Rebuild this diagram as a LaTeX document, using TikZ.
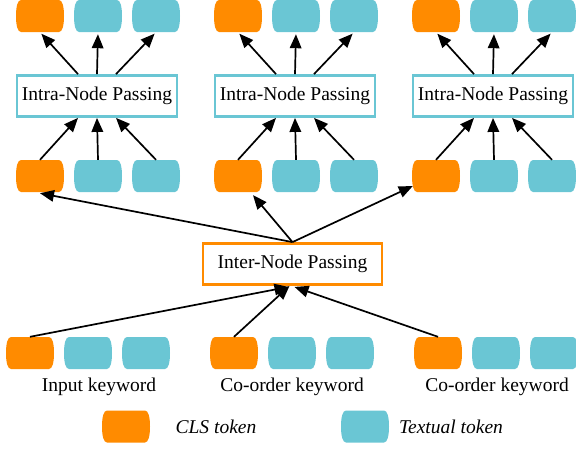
\documentclass[tikz,border=0pt]{standalone}
\usepackage{fontspec}
\setmainfont{Liberation Serif}
\usetikzlibrary{arrows.meta,calc}
\definecolor{clsorange}{RGB}{255,139,0}
\definecolor{txtteal}{RGB}{106,198,212}
\tikzset{
  % token: flat top and bottom, softly bulging ends
  tok/.style={rectangle, minimum width=48pt, minimum height=32pt, inner sep=0pt,
    path picture={
      \coordinate (pc) at (path picture bounding box.center);
      \fill[#1] ([shift={(-19,-16)}]pc) -- ([shift={(19,-16)}]pc)
        .. controls ([shift={(22.5,-16)}]pc) and ([shift={(24,-9)}]pc) .. ([shift={(24,0)}]pc)
        .. controls ([shift={(24,9)}]pc) and ([shift={(22.5,16)}]pc) .. ([shift={(19,16)}]pc)
        -- ([shift={(-19,16)}]pc)
        .. controls ([shift={(-22.5,16)}]pc) and ([shift={(-24,9)}]pc) .. ([shift={(-24,0)}]pc)
        .. controls ([shift={(-24,-9)}]pc) and ([shift={(-22.5,-16)}]pc) .. cycle;
    }},
  cls/.style={tok=clsorange},
  txt/.style={tok=txtteal},
  passbox/.style={draw, line width=2.8pt, fill=white, minimum height=41pt,
    inner sep=0pt, font=\fontsize{19.5}{23}\selectfont},
  intrabox/.style={passbox, draw=txtteal, minimum width=160pt},
  interbox/.style={passbox, draw=clsorange, minimum width=179pt},
  flow/.style={line width=1.7pt, -{Triangle[length=14pt,width=11.5pt]}},
  lbl/.style={font=\fontsize{19.5}{23}\selectfont, inner sep=0pt},
}
\begin{document}
\begin{tikzpicture}[x=1pt,y=-1pt]
\useasboundingbox (0,0) rectangle (576,448);

% three keyword nodes: input tokens, intra-node passing, output tokens
\foreach \g/\x in {1/40,2/238,3/436} {
  \node[cls] (t\g1) at (\x,16) {};
  \node[txt] (t\g2) at (\x+58,16) {};
  \node[txt] (t\g3) at (\x+116,16) {};
  \node[intrabox] (b\g) at (\x+57,96) {Intra-Node Passing};
  \node[cls] (m\g1) at (\x,176) {};
  \node[txt] (m\g2) at (\x+58,176) {};
  \node[txt] (m\g3) at (\x+116,176) {};
  \draw[flow, shorten >=2pt] ($(b\g.north)+(-19,0)$) -- (t\g1.south);
  \draw[flow, shorten >=2pt] (b\g.north) -- (t\g2.south);
  \draw[flow, shorten >=2pt] ($(b\g.north)+(19,0)$) -- (t\g3.south);
  \draw[flow] (m\g1.north) -- ($(b\g.south)+(-19,0)$);
  \draw[flow] (m\g2.north) -- (b\g.south);
  \draw[flow] (m\g3.north) -- ($(b\g.south)+(19,0)$);
}

% inter-node passing between the CLS tokens
\node[interbox] (inter) at (292.5,264) {Inter-Node Passing};
\draw[flow] (inter.north) -- ($(m11.south)+(0,1)$);
\draw[flow] (inter.north) -- ($(m21.south)+(15,3)$);
\draw[flow] (inter.north) -- ($(m31.west)+(1,10)$);

% keyword token sequences
\foreach \g/\x in {1/30,2/234,3/438} {
  \node[cls] (k\g1) at (\x,353) {};
  \node[txt] (k\g2) at (\x+58,353) {};
  \node[txt] (k\g3) at (\x+116,353) {};
}
\draw[flow] (k11.north) -- ($(inter.south)+(-4,1)$);
\draw[flow] (k21.north) -- ($(inter.south)+(-3,0)$);
\draw[flow] (k31.north) -- ($(inter.south)+(2,1)$);

\node[lbl] (l1) at (99,387) {Input keyword};
\node[lbl] (l2) at (292,387) {Co-order keyword};
\node[lbl] (l3) at (497,387) {Co-order keyword};

% legend
\node[cls] (leg1) at (126,426.5) {};
\node[lbl, font=\fontsize{19.5}{23}\selectfont\itshape] (legt1) at (216,427) {CLS token};
\node[txt] (leg2) at (365,426.5) {};
\node[lbl, font=\fontsize{19.5}{23}\selectfont\itshape] (legt2) at (451,427) {Textual token};
\end{tikzpicture}
\end{document}
